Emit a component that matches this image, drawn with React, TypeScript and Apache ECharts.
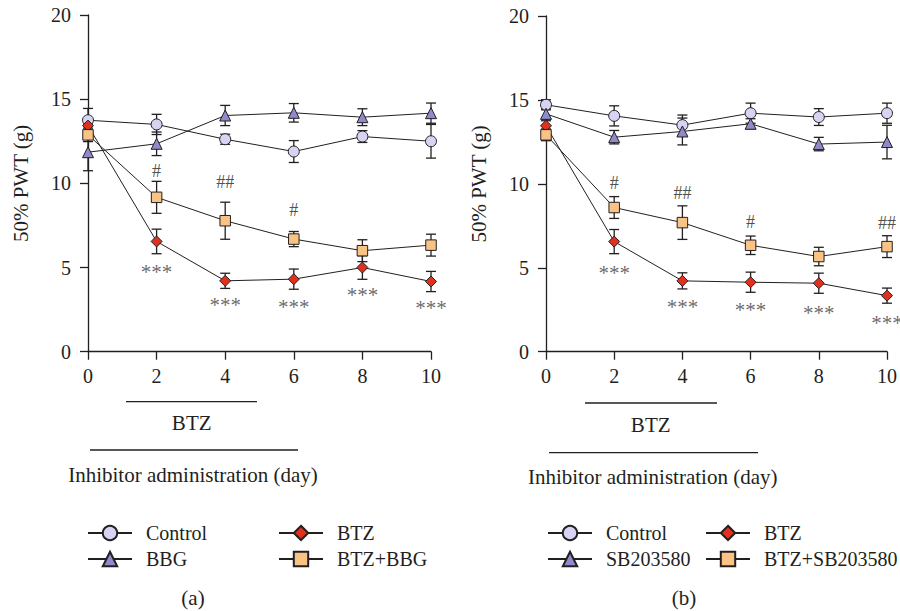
import React, { useEffect, useRef } from 'react';
import * as echarts from 'echarts';

// ---------- data ----------
const days = [0, 2, 4, 6, 8, 10];
const yMin = 0;
const yMax = 20;
const yStep = 5;
const xStep = 2;

// Panel (a)
const aControl = [13.75, 13.5, 12.62, 11.89, 12.78, 12.5];
const aControlErr = [0.7, 0.6, 0.3, 0.65, 0.35, 1.0];
const aBBG = [11.85, 12.35, 14.03, 14.19, 13.93, 14.17];
const aBBGErr = [1.1, 0.7, 0.6, 0.55, 0.5, 0.6];
const aBTZ = [13.43, 6.55, 4.21, 4.31, 5.0, 4.17];
const aBTZErr = [0.3, 0.73, 0.45, 0.6, 0.7, 0.6];
const aCombo = [12.88, 9.17, 7.78, 6.69, 6.0, 6.33];
const aComboErr = [0.4, 0.95, 1.1, 0.45, 0.65, 0.65];

// Panel (b)
const bControl = [14.71, 14.05, 13.5, 14.21, 13.98, 14.21];
const bControlErr = [0.3, 0.6, 0.6, 0.6, 0.5, 0.6];
const bSB = [14.17, 12.78, 13.12, 13.58, 12.37, 12.49];
const bSBErr = [0.3, 0.4, 0.8, 0.3, 0.4, 1.0];
const bBTZ = [13.46, 6.56, 4.22, 4.14, 4.08, 3.34];
const bBTZErr = [0.3, 0.72, 0.48, 0.6, 0.6, 0.45];
const bCombo = [12.92, 8.59, 7.69, 6.34, 5.67, 6.26];
const bComboErr = [0.35, 0.65, 1.0, 0.55, 0.55, 0.65];

// significance marks: [day, y-position, text]
const aHash: [number, number, string][] = [[2, 10.71, '#'], [4, 10.06, '##'], [6, 8.43, '#']];
const aStars: [number, number, string][] = [[2, 4.76, '***'], [4, 2.78, '***'], [6, 2.68, '***'], [8, 3.38, '***'], [10, 2.62, '***']];
const bHash: [number, number, string][] = [[2, 10.04, '#'], [4, 9.45, '##'], [6, 7.75, '#'], [10, 7.66, '##']];
const bStars: [number, number, string][] = [[2, 4.67, '***'], [4, 2.68, '***'], [6, 2.48, '***'], [8, 2.29, '***'], [10, 1.69, '***']];

const seriesNamesA = ['Control', 'BBG', 'BTZ', 'BTZ+BBG'];
const seriesNamesB = ['Control', 'SB203580', 'BTZ', 'BTZ+SB203580'];
const yAxisTitle = '50% PWT (g)';
const xAxisTitle = 'Inhibitor administration (day)';
const btzLabel = 'BTZ';
const panelLabels = ['(a)', '(b)'];

// ---------- style ----------
const FONT = '"Liberation Serif", "Times New Roman", serif';
const INK = '#231f20';
const C_CIRCLE = '#d6d4f2';
const C_TRI = '#8e8acb';
const C_DIAMOND = '#e2301f';
const C_SQUARE = '#f8c384';
const TXT = 21;

function lineSeries(name: string, values: number[], symbol: string, color: string, gi: number, size = 11) {
  return {
    type: 'line',
    name,
    xAxisIndex: gi,
    yAxisIndex: gi,
    data: days.map((d, i) => [d, values[i]]),
    symbol,
    symbolSize: size,
    showSymbol: true,
    lineStyle: { color: INK, width: 1 },
    itemStyle: { color, borderColor: INK, borderWidth: 1 },
    z: 3,
    silent: true,
  };
}

function errSeries(values: number[], errs: number[], gi: number) {
  return {
    type: 'custom',
    xAxisIndex: gi,
    yAxisIndex: gi,
    data: days.map((d, i) => [d, values[i] - errs[i], values[i] + errs[i]]),
    encode: { x: 0, y: [1, 2] },
    z: 2,
    silent: true,
    renderItem: (_params: any, api: any) => {
      const lo = api.coord([api.value(0), api.value(1)]);
      const hi = api.coord([api.value(0), api.value(2)]);
      const w = 5;
      const style = { stroke: INK, lineWidth: 1.3 };
      return {
        type: 'group',
        children: [
          { type: 'line', shape: { x1: hi[0], y1: hi[1], x2: lo[0], y2: lo[1] }, style },
          { type: 'line', shape: { x1: hi[0] - w, y1: hi[1], x2: hi[0] + w, y2: hi[1] }, style },
          { type: 'line', shape: { x1: lo[0] - w, y1: lo[1], x2: lo[0] + w, y2: lo[1] }, style },
        ],
      };
    },
  };
}

function markSeries(pts: [number, number, string][], gi: number, size: number, color: string) {
  return {
    type: 'scatter',
    xAxisIndex: gi,
    yAxisIndex: gi,
    data: pts.map((p) => ({ value: [p[0], p[1]], name: p[2] })),
    symbolSize: 0,
    silent: true,
    z: 5,
    label: {
      show: true,
      position: 'inside',
      formatter: '{b}',
      fontFamily: FONT,
      fontSize: size,
      color,
    },
  };
}

function xAxisCfg(gi: number) {
  return {
    type: 'value',
    gridIndex: gi,
    min: 0,
    max: 10,
    interval: xStep,
    axisLine: { show: true, lineStyle: { color: INK, width: 1.3 } },
    axisTick: { show: true, length: 8, lineStyle: { color: INK, width: 1.3 } },
    axisLabel: { fontFamily: FONT, fontSize: 20, color: INK, margin: 14 },
    splitLine: { show: false },
  };
}

function yAxisCfg(gi: number) {
  return {
    type: 'value',
    gridIndex: gi,
    min: yMin,
    max: yMax,
    interval: yStep,
    name: yAxisTitle,
    nameLocation: 'middle',
    nameGap: 57,
    nameTextStyle: { fontFamily: FONT, fontSize: TXT, color: INK },
    axisLine: { show: true, lineStyle: { color: INK, width: 1.3 } },
    axisTick: { show: true, length: 8, lineStyle: { color: INK, width: 1.3 } },
    axisLabel: { fontFamily: FONT, fontSize: 20, color: INK, margin: 17 },
    splitLine: { show: false },
  };
}

const legendBase = {
  orient: 'vertical',
  itemWidth: 44,
  itemHeight: 18,
  itemGap: 6,
  padding: 0,
  selectedMode: false,
  textStyle: { fontFamily: FONT, fontSize: 20, color: INK, padding: [0, 0, 0, 9], lineHeight: 18 },
};

function txt(text: string, x: number, y: number) {
  return {
    type: 'text',
    x,
    y,
    silent: true,
    style: {
      text,
      fill: INK,
      font: `${TXT}px ${FONT}`,
      align: 'center',
      verticalAlign: 'middle',
      textAlign: 'center',
      textVerticalAlign: 'middle',
    },
  };
}

function hline(x1: number, x2: number, y: number) {
  return {
    type: 'line',
    silent: true,
    shape: { x1, y1: y, x2, y2: y },
    style: { stroke: INK, lineWidth: 1.3 },
  };
}

export default function App() {
  const ref = useRef<HTMLDivElement>(null);

  useEffect(() => {
    if (!ref.current) return;
    const chart = echarts.init(ref.current, undefined, { renderer: 'svg' });
    const option: any = {
      animation: false,
      backgroundColor: '#ffffff',
      textStyle: { fontFamily: FONT },
      grid: [
        { left: 88, top: 15, width: 343, height: 336.7, containLabel: false },
        { left: 546, top: 16, width: 345, height: 335.7, containLabel: false },
      ],
      xAxis: [xAxisCfg(0), xAxisCfg(1)],
      yAxis: [yAxisCfg(0), yAxisCfg(1)],
      legend: [
        { ...legendBase, data: [seriesNamesA[0], seriesNamesA[1]], left: 87, top: 523 },
        { ...legendBase, data: [seriesNamesA[2], seriesNamesA[3]], left: 278, top: 523 },
        { ...legendBase, data: [seriesNamesB[0], seriesNamesB[1]], left: 547, top: 523 },
        { ...legendBase, data: [seriesNamesB[2], seriesNamesB[3]], left: 705, top: 523 },
      ],
      series: [
        errSeries(aControl, aControlErr, 0),
        errSeries(aBBG, aBBGErr, 0),
        errSeries(aBTZ, aBTZErr, 0),
        errSeries(aCombo, aComboErr, 0),
        lineSeries(seriesNamesA[0], aControl, 'circle', C_CIRCLE, 0),
        lineSeries(seriesNamesA[1], aBBG, 'triangle', C_TRI, 0),
        lineSeries(seriesNamesA[2], aBTZ, 'diamond', C_DIAMOND, 0),
        lineSeries(seriesNamesA[3], aCombo, 'rect', C_SQUARE, 0, 10.5),
        markSeries(aHash, 0, 18, INK),
        markSeries(aStars, 0, 21, '#444'),
        errSeries(bControl, bControlErr, 1),
        errSeries(bSB, bSBErr, 1),
        errSeries(bBTZ, bBTZErr, 1),
        errSeries(bCombo, bComboErr, 1),
        lineSeries(seriesNamesB[0], bControl, 'circle', C_CIRCLE, 1),
        lineSeries(seriesNamesB[1], bSB, 'triangle', C_TRI, 1),
        lineSeries(seriesNamesB[2], bBTZ, 'diamond', C_DIAMOND, 1),
        lineSeries(seriesNamesB[3], bCombo, 'rect', C_SQUARE, 1, 10.5),
        markSeries(bHash, 1, 18, INK),
        markSeries(bStars, 1, 21, '#444'),
      ],
      graphic: [
        hline(126, 257, 401.7),
        txt(btzLabel, 191.7, 422.7),
        hline(90, 298, 450),
        txt(xAxisTitle, 193, 475),
        txt(panelLabels[0], 193, 598),
        hline(585, 717, 403),
        txt(btzLabel, 650.7, 425),
        hline(549, 758, 452.7),
        txt(xAxisTitle, 652.7, 476.7),
        txt(panelLabels[1], 684, 598),
      ],
    };
    chart.setOption(option);
    return () => chart.dispose();
  }, []);

  return (
    <div
      ref={ref}
      style={{ position: 'absolute', left: 0, top: 0, width: 900, height: 611, background: '#fff' }}
    />
  );
}
